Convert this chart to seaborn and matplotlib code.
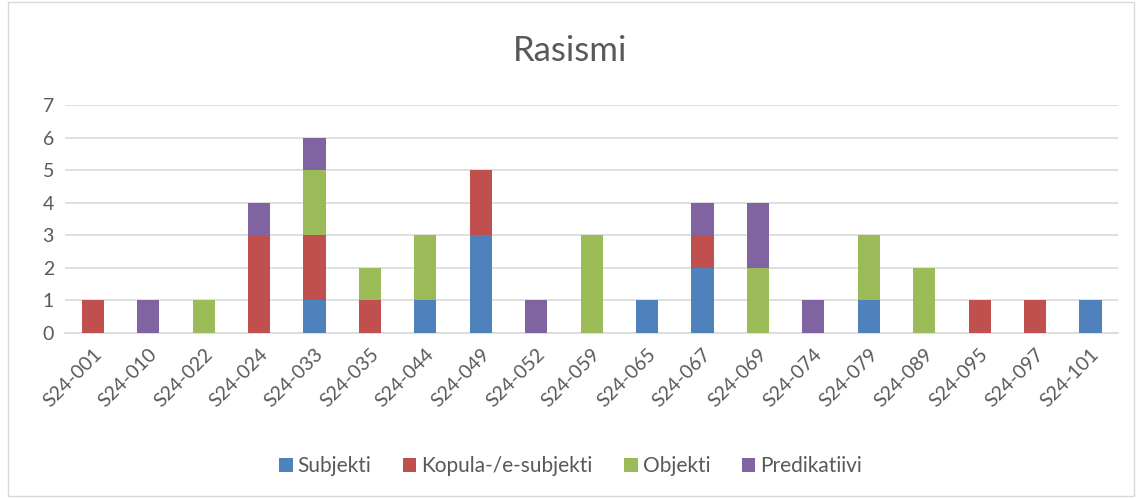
import matplotlib
matplotlib.use("Agg")
import matplotlib.pyplot as plt
import seaborn as sns
import numpy as np
from matplotlib.patches import Rectangle, Patch

categories = ["S24-001", "S24-010", "S24-022", "S24-024", "S24-033", "S24-035", "S24-044",
              "S24-049", "S24-052", "S24-059", "S24-065", "S24-067", "S24-069", "S24-074",
              "S24-079", "S24-089", "S24-095", "S24-097", "S24-101"]
subjekti     = [0, 0, 0, 0, 1, 0, 1, 3, 0, 0, 1, 2, 0, 0, 1, 0, 0, 0, 1]
kopula       = [1, 0, 0, 3, 2, 1, 0, 2, 0, 0, 0, 1, 0, 0, 0, 0, 1, 1, 0]
objekti      = [0, 0, 1, 0, 2, 1, 2, 0, 0, 3, 0, 0, 2, 0, 2, 2, 0, 0, 0]
predikatiivi = [0, 1, 0, 1, 1, 0, 0, 0, 1, 0, 0, 1, 2, 1, 0, 0, 0, 0, 0]
series_names = ["Subjekti", "Kopula-/e-subjekti", "Objekti", "Predikatiivi"]
colors = ["#4F81BD", "#C0504D", "#9BBB59", "#8064A2"]
yticks = [0, 1, 2, 3, 4, 5, 6, 7]

sns.set_theme(style="white")
plt.rcParams['font.family'] = ['Lato', 'DejaVu Sans']
text_color = "#595959"

fig = plt.figure(figsize=(11.41, 4.99), dpi=100)
ax = fig.add_axes([0.057, 0.3327, 0.923, 0.457])

bottom = np.zeros(len(categories))
for name, vals, c in zip(series_names, [subjekti, kopula, objekti, predikatiivi], colors):
    sns.barplot(x=categories, y=vals, bottom=bottom, color=c, width=0.4,
                linewidth=0, saturation=1, ax=ax, zorder=3)
    bottom = bottom + np.array(vals)

ax.set_ylim(0, 7)
ax.set_xlim(-0.5, len(categories) - 0.5)
ax.set_yticks(yticks)
ax.set_yticklabels([str(t) for t in yticks], fontsize=14, color=text_color)
ax.yaxis.grid(True, color="#D9D9D9", linewidth=1.2, zorder=0)
ax.xaxis.grid(False)
for s in ["top", "right", "left"]:
    ax.spines[s].set_visible(False)
ax.spines["bottom"].set_color("#D9D9D9")
ax.spines["bottom"].set_linewidth(1.2)
ax.tick_params(axis="both", length=0, pad=8)
ax.set_xticks(range(len(categories)))
ax.set_xticklabels(categories, rotation=45, ha="right", rotation_mode="anchor",
                   fontsize=14, color=text_color)
ax.tick_params(axis="x", pad=9)
ax.set_xlabel("")
ax.set_ylabel("")

fig.text(0.5, 0.897, "Rasismi", ha="center", va="center", fontsize=25, color=text_color)

handles = [Patch(facecolor=c, edgecolor="none", label=n) for n, c in zip(series_names, colors)]
fig.legend(handles=handles, loc="center", bbox_to_anchor=(0.5, 0.066), ncol=4, frameon=False,
           fontsize=15, labelcolor=text_color, handlelength=0.65, handleheight=0.65,
           handletextpad=0.25, columnspacing=1.5)

fig.patches.append(Rectangle((0.007, 0.006), 0.987, 0.99, transform=fig.transFigure,
                             fill=False, edgecolor="#D9D9D9", linewidth=1))

fig.savefig("out.png", dpi=100)
